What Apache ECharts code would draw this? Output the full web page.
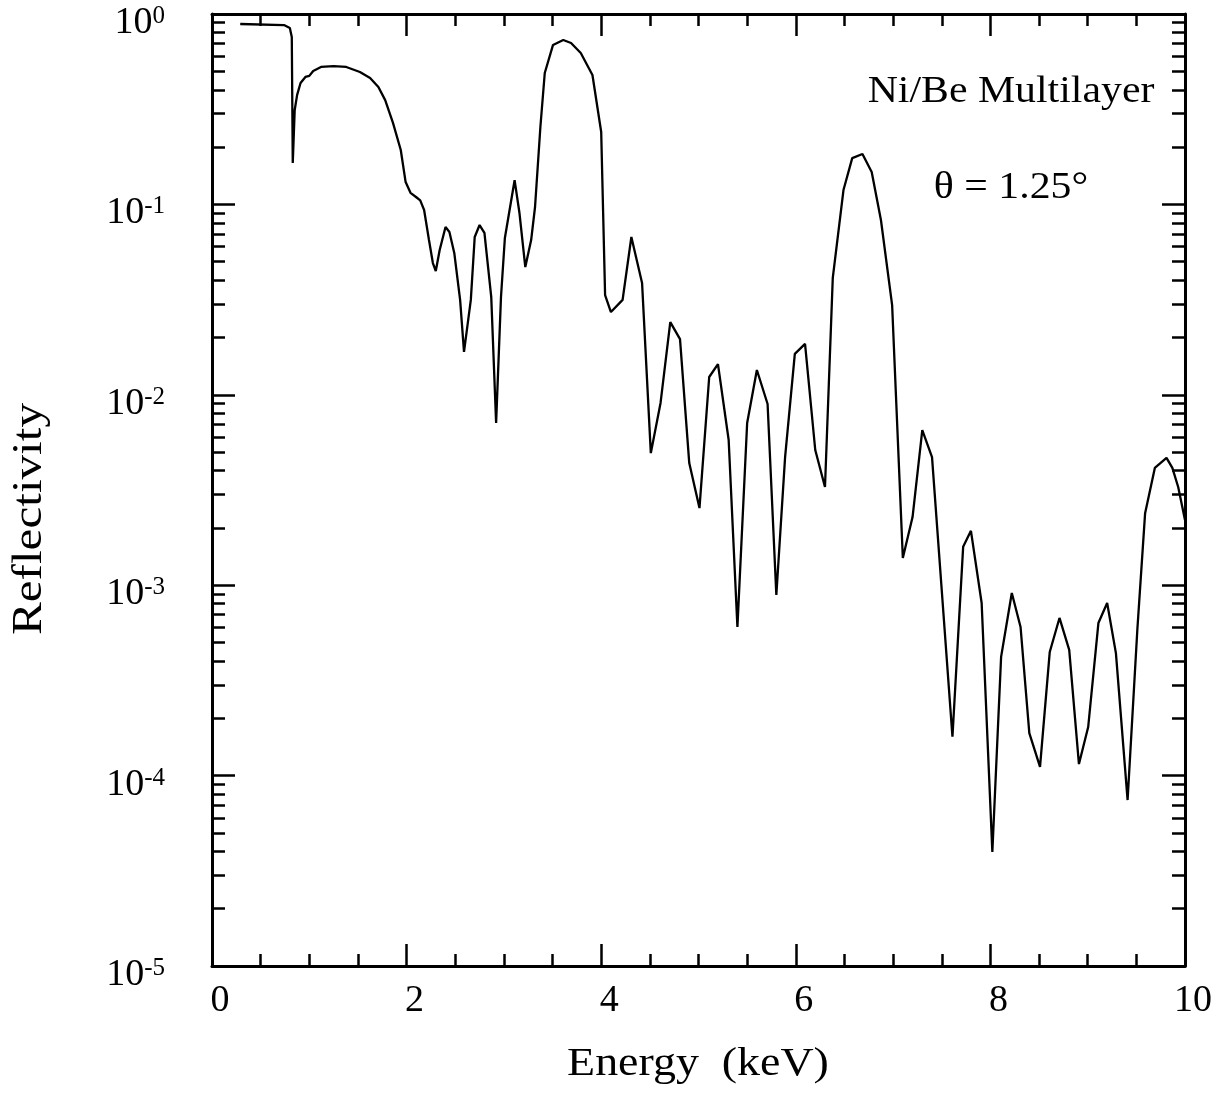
<!DOCTYPE html>
<html>
<head>
<meta charset="utf-8">
<script src="https://cdn.jsdelivr.net/npm/echarts@6/dist/echarts.min.js"></script>
<style>
  html, body { margin: 0; padding: 0; background: #ffffff; }
  #chart { width: 1215px; height: 1093px; }
</style>
</head>
<body>
<div id="chart"></div>
<script>
// Ni/Be multilayer reflectivity vs photon energy, grazing angle 1.25 deg
const energyKeV = [
  0.29, 0.74, 0.80, 0.82, 0.83, 0.85, 0.875, 0.91, 0.96, 1.00,
  1.01, 1.04, 1.12, 1.25, 1.38, 1.52, 1.625, 1.71, 1.78, 1.86,
  1.94, 1.99, 2.04, 2.10, 2.14, 2.18, 2.23, 2.27, 2.30, 2.34,
  2.40, 2.44, 2.49, 2.55, 2.59, 2.66, 2.70, 2.75, 2.80, 2.87,
  2.92, 2.97, 3.01, 3.11, 3.16, 3.22, 3.28, 3.32, 3.375, 3.42,
  3.505, 3.61, 3.69, 3.79, 3.91, 4.00, 4.04, 4.10, 4.22, 4.31,
  4.42, 4.51, 4.61, 4.71, 4.81, 4.905, 5.01, 5.11, 5.20, 5.31,
  5.40, 5.50, 5.60, 5.71, 5.80, 5.89, 5.99, 6.095, 6.20, 6.30,
  6.38, 6.49, 6.58, 6.685, 6.78, 6.875, 6.99, 7.10, 7.20, 7.30,
  7.40, 7.61, 7.72, 7.80, 7.91, 8.02, 8.11, 8.22, 8.31, 8.40,
  8.51, 8.61, 8.71, 8.81, 8.91, 9.005, 9.11, 9.20, 9.29, 9.41,
  9.51, 9.59, 9.69, 9.81, 9.87, 9.93, 10.0
];
const reflectivity = [
  0.886, 0.875, 0.844, 0.757, 0.165, 0.313, 0.376, 0.434, 0.467, 0.473,
  0.467, 0.502, 0.527, 0.533, 0.527, 0.496, 0.461, 0.414, 0.353, 0.268,
  0.193, 0.131, 0.115, 0.109, 0.105, 0.0935, 0.065, 0.0492, 0.0447, 0.0576,
  0.0761, 0.0716, 0.0556, 0.0315, 0.0168, 0.0315, 0.0674, 0.0779, 0.0708, 0.0326,
  0.00711, 0.0326, 0.0666, 0.134, 0.0901, 0.0469, 0.065, 0.0969, 0.255, 0.49,
  0.688, 0.73, 0.704, 0.624, 0.478, 0.24, 0.0334, 0.0272, 0.0315, 0.0674,
  0.0387, 0.00494, 0.00906, 0.0241, 0.0196, 0.00438, 0.00254, 0.0124, 0.0145, 0.00579,
  0.000603, 0.00711, 0.0135, 0.00895, 0.000888, 0.00471, 0.0164, 0.0185, 0.00513, 0.00328,
  0.0411, 0.119, 0.175, 0.184, 0.148, 0.0828, 0.0296, 0.00139, 0.00228, 0.00653,
  0.00471, 0.00016, 0.00159, 0.00193, 0.000806, 0.0000397, 0.00042, 0.00091, 0.000603, 0.000167,
  0.000111, 0.000446, 0.000673, 0.000457, 0.000115, 0.00018, 0.000633, 0.000806, 0.00044, 0.0000744,
  0.000582, 0.00239, 0.00413, 0.00466, 0.00413, 0.00328, 0.0022
];
const decadeTicks = [1e-5, 1e-4, 1e-3, 1e-2, 1e-1, 1];
const minorMultipliers = [2, 3, 4, 5, 6, 7, 8, 9];
const annotationLines = ['Ni/Be Multilayer', '\u03b8 = 1.25\u00b0'];
const xTitle = 'Energy  (keV)';
const yTitle = 'Reflectivity';

const minorLogTicks = [];
decadeTicks.slice(0, -1).forEach(d => minorMultipliers.forEach(m => minorLogTicks.push(d * m)));

const seriesData = energyKeV.map((e, i) => [e, reflectivity[i]]);

const FONT = 'Liberation Serif';
const INK = '#000000';

const chart = echarts.init(document.getElementById('chart'), null, { renderer: 'canvas' });

function xAxisDef(pos, showLabel) {
  return {
    type: 'value', position: pos, min: 0, max: 10, interval: 2,
    axisLine: { show: true, lineStyle: { color: INK, width: 3 } },
    axisTick: { show: true, inside: true, length: 22, lineStyle: { color: INK, width: 2.5 } },
    minorTick: { show: true, splitNumber: 4, length: 12, lineStyle: { color: INK, width: 2.5 } },
    splitLine: { show: false },
    axisLabel: {
      show: showLabel, color: INK, fontFamily: FONT, fontSize: 38, margin: 16,
      padding: [0, 0, 0, 16]
    }
  };
}

function yMajorDef(pos, showLabel) {
  return {
    type: 'log', logBase: 10, position: pos, min: 1e-5, max: 1,
    axisLine: { show: true, lineStyle: { color: INK, width: 3 } },
    axisTick: { show: true, inside: true, length: 23, customValues: decadeTicks, lineStyle: { color: INK, width: 2.5 } },
    splitLine: { show: false },
    axisLabel: {
      show: showLabel, customValues: decadeTicks, margin: 47, padding: [18, 0, 0, 0],
      formatter: v => '{m|10}{e|' + Math.round(Math.log10(v)) + '}',
      rich: {
        m: { fontFamily: FONT, fontSize: 38, color: INK },
        e: { fontFamily: FONT, fontSize: 25, color: INK, verticalAlign: 'top' }
      }
    }
  };
}

function yMinorDef(pos) {
  return {
    type: 'log', logBase: 10, position: pos, min: 1e-5, max: 1,
    axisLine: { show: false },
    axisTick: { show: true, inside: true, length: 13, customValues: minorLogTicks, lineStyle: { color: INK, width: 2.5 } },
    splitLine: { show: false },
    axisLabel: { show: false }
  };
}

chart.setOption({
  backgroundColor: '#ffffff',
  animation: false,
  grid: { left: 212, top: 14, width: 975, height: 952, containLabel: false },
  xAxis: [xAxisDef('bottom', true), xAxisDef('top', false)],
  yAxis: [yMajorDef('left', true), yMinorDef('left'), yMajorDef('right', false), yMinorDef('right')],
  series: [{
    type: 'line', xAxisIndex: 0, yAxisIndex: 0,
    data: seriesData, showSymbol: false, symbol: 'none', smooth: false,
    lineStyle: { color: INK, width: 2.3 }, clip: true
  }],
  graphic: [
    {
      type: 'text', x: 30, y: 519, rotation: Math.PI / 2, scaleX: 1.17,
      style: { text: yTitle, font: '42px "Liberation Serif"', fill: INK, align: 'center', verticalAlign: 'middle' }
    },
    {
      type: 'text', x: 698, y: 1064, scaleX: 1.12,
      style: { text: xTitle, font: '41px "Liberation Serif"', fill: INK, align: 'center', verticalAlign: 'middle' }
    },
    {
      type: 'text', x: 1011, y: 92, scaleX: 1.1,
      style: { text: annotationLines[0], font: '38px "Liberation Serif"', fill: INK, align: 'center', verticalAlign: 'middle' }
    },
    {
      type: 'text', x: 1011, y: 188, scaleX: 1.1,
      style: { text: annotationLines[1], font: '38px "Liberation Serif"', fill: INK, align: 'center', verticalAlign: 'middle' }
    }
  ]
});
</script>
</body>
</html>
